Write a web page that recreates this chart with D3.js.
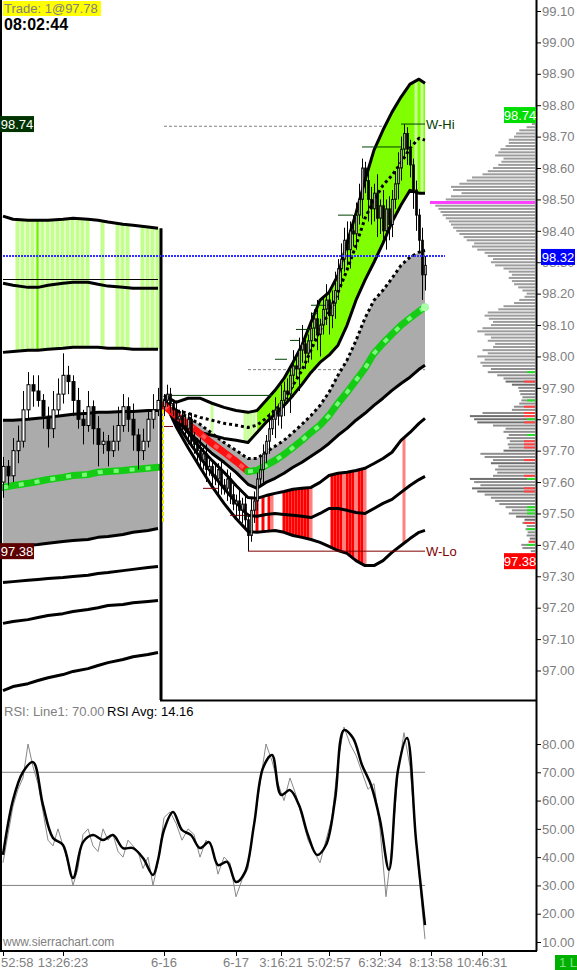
<!DOCTYPE html>
<html><head><meta charset="utf-8">
<script src="https://cdn.jsdelivr.net/npm/d3@7"></script>
<style>html,body{margin:0;padding:0;background:#fff;overflow:hidden}svg{display:block;font-family:"Liberation Sans",Arial,sans-serif}</style>
</head><body><svg id="c" width="577" height="970"></svg>
<script>
// ---------- DATA ----------
const priceTicks = [97.0,97.1,97.2,97.3,97.4,97.5,97.6,97.7,97.8,97.9,98.0,98.1,98.2,98.3,98.4,98.5,98.6,98.7,98.8,98.9,99.0,99.1];
const rsiTicks = [10,20,30,40,50,60,70,80];
const xTickIdx = [0,12,32,56,71,87,104,121,138];
const xTickLabels = ["52:58","13:26:23","6-16","6-17","3:16:21","5:02:57","6:32:34","8:13:58","10:46:31"];

// previous session bars (left), bar index 0..31
const leftOpen0 = 97.60;
const leftClose = [97.65,97.62,97.70,97.73,97.83,97.91,97.89,97.86,97.81,97.77,97.83,97.88,97.94,97.92,97.86,97.80,97.78,97.84,97.77,97.72,97.73,97.70,97.73,97.78,97.84,97.80,97.75,97.70,97.73,97.80,97.83,97.86];
const leftWickUp = [0.03,0.02,0.04,0.05,0.06,0.04,0.03,0.05,0.02,0.03,0.06,0.05,0.07,0.03,0.02,0.04,0.03,0.05,0.02,0.04,0.03,0.02,0.05,0.06,0.04,0.03,0.05,0.02,0.04,0.03,0.05,0.04];
const leftWickDn = [0.05,0.03,0.02,0.04,0.02,0.03,0.05,0.02,0.04,0.06,0.03,0.02,0.03,0.04,0.05,0.03,0.06,0.02,0.05,0.07,0.03,0.05,0.02,0.03,0.02,0.04,0.05,0.06,0.03,0.02,0.03,0.02];

// current session bars, bar index 32..119
const midOpen0 = 97.84;
const midClose = [97.86,97.88,97.85,97.83,97.80,97.81,97.78,97.77,97.80,97.73,
 97.72,97.70,97.67,97.69,97.64,97.65,97.62,97.61,97.64,97.59,
 97.58,97.61,97.56,97.53,97.54,97.51,97.53,97.48,97.43,97.51,
 97.54,97.61,97.64,97.69,97.73,97.77,97.80,97.83,97.81,97.86,
 97.89,97.88,97.94,97.97,97.96,98.02,98.04,98.01,98.05,98.09,
 98.12,98.07,98.10,98.15,98.18,98.13,98.17,98.21,98.28,98.31,
 98.37,98.34,98.40,98.39,98.45,98.50,98.60,98.56,98.50,98.47,
 98.52,98.44,98.48,98.40,98.47,98.42,98.50,98.55,98.60,98.66,
 98.71,98.66,98.61,98.53,98.45,98.37,98.26,98.29];
const midWickUp = [0.02,0.03,0.02,0.01,0.03,0.02,0.02,0.03,0.02,0.02,
 0.03,0.02,0.04,0.02,0.03,0.02,0.02,0.04,0.02,0.03,
 0.02,0.03,0.02,0.03,0.02,0.04,0.02,0.03,0.02,0.04,
 0.03,0.02,0.04,0.03,0.02,0.05,0.03,0.04,0.02,0.05,
 0.03,0.04,0.02,0.05,0.03,0.04,0.06,0.03,0.02,0.05,
 0.03,0.06,0.02,0.04,0.05,0.03,0.04,0.06,0.03,0.05,
 0.04,0.06,0.03,0.05,0.04,0.05,0.03,0.02,0.05,0.04,
 0.03,0.06,0.02,0.05,0.03,0.04,0.03,0.04,0.05,0.04,
 0.03,0.02,0.03,0.02,0.03,0.02,0.04,0.03];
const midWickDn = [0.03,0.02,0.03,0.02,0.02,0.04,0.02,0.03,0.05,0.02,
 0.03,0.04,0.02,0.03,0.04,0.02,0.03,0.02,0.05,0.03,
 0.02,0.04,0.03,0.02,0.04,0.03,0.04,0.03,0.05,0.02,
 0.04,0.03,0.02,0.05,0.03,0.04,0.02,0.06,0.03,0.04,
 0.05,0.03,0.06,0.04,0.03,0.07,0.04,0.05,0.03,0.06,
 0.04,0.05,0.07,0.03,0.05,0.06,0.04,0.05,0.03,0.06,
 0.04,0.05,0.06,0.04,0.05,0.03,0.06,0.04,0.07,0.05,
 0.04,0.06,0.05,0.04,0.06,0.05,0.04,0.03,0.05,0.04,
 0.03,0.05,0.04,0.06,0.05,0.04,0.08,0.05];

// previous session bands
const leftBandIdx = [0,2,5,7,9,12,14,17,19,21,24,26,29,31];
const leftTop = [98.447,98.437,98.434,98.434,98.434,98.437,98.440,98.437,98.434,98.428,98.421,98.418,98.412,98.408];
const left2 = [98.233,98.227,98.220,98.220,98.227,98.233,98.236,98.236,98.230,98.224,98.220,98.217,98.217,98.217];
const left3 = [98.013,98.016,98.020,98.020,98.023,98.026,98.029,98.029,98.029,98.026,98.026,98.023,98.023,98.023];
const leftGrayTop = [97.797,97.797,97.800,97.803,97.806,97.812,97.816,97.819,97.822,97.822,97.825,97.825,97.828,97.828];
const leftVwap = [97.583,97.589,97.596,97.602,97.608,97.615,97.621,97.624,97.631,97.634,97.637,97.640,97.644,97.647];
const leftGrayBot = [97.392,97.395,97.398,97.401,97.405,97.411,97.414,97.417,97.424,97.427,97.433,97.440,97.446,97.452];
const leftLow1 = [97.280,97.283,97.287,97.290,97.293,97.296,97.299,97.303,97.309,97.312,97.318,97.322,97.328,97.331];
const leftLow2 = [97.150,97.156,97.162,97.169,97.175,97.181,97.188,97.194,97.200,97.207,97.210,97.216,97.220,97.223];
const leftLow3 = [96.936,96.949,96.958,96.968,96.977,96.987,96.997,97.006,97.016,97.025,97.035,97.044,97.051,97.057];
const leftStripes = [3,4,5,6,8,9,10,11,12,13,14,15,16,17,20,23,24,25,28,29,30,31];
const leftBright = [7];

// current session bands
const midBandIdx = [32,36,40,44,48,52,56,60,63,66,69,72,75,78,81,84,87,90,93,96,99,102,105,108,111,114,117,119];
const greenTop = [97.876,97.854,97.867,97.867,97.851,97.838,97.828,97.822,97.828,97.860,97.892,97.930,97.981,98.036,98.109,98.179,98.204,98.259,98.361,98.456,98.561,98.657,98.721,98.778,98.826,98.867,98.883,98.870];
const greenMid = [97.867,97.828,97.819,97.806,97.797,97.787,97.781,97.774,97.781,97.803,97.828,97.860,97.908,97.956,98.020,98.083,98.141,98.204,98.275,98.354,98.440,98.498,98.545,98.577,98.616,98.663,98.695,98.689];
const greenBot = [97.860,97.787,97.771,97.758,97.749,97.739,97.733,97.726,97.758,97.790,97.816,97.844,97.876,97.911,97.949,97.981,98.004,98.036,98.099,98.179,98.243,98.300,98.361,98.428,98.482,98.529,98.520,98.520];
const grayTop = [97.860,97.828,97.806,97.784,97.755,97.726,97.701,97.675,97.675,97.695,97.714,97.733,97.758,97.784,97.812,97.844,97.886,97.940,97.988,98.051,98.122,98.179,98.211,98.249,98.290,98.316,98.332,98.338];
const midVwap = [97.844,97.812,97.784,97.755,97.723,97.695,97.666,97.634,97.637,97.653,97.669,97.688,97.710,97.733,97.758,97.781,97.812,97.851,97.886,97.924,97.962,98.010,98.042,98.071,98.099,98.122,98.144,98.157];
const grayBot = [97.854,97.797,97.761,97.726,97.691,97.663,97.631,97.593,97.580,97.599,97.612,97.628,97.647,97.663,97.682,97.701,97.723,97.749,97.771,97.797,97.819,97.844,97.867,97.892,97.914,97.934,97.959,97.972];
const lowA = [97.860,97.803,97.758,97.710,97.669,97.631,97.589,97.551,97.548,97.557,97.564,97.570,97.577,97.580,97.583,97.599,97.621,97.628,97.631,97.637,97.644,97.659,97.675,97.695,97.733,97.758,97.787,97.803];
const lowB = [97.860,97.790,97.733,97.679,97.628,97.580,97.535,97.494,97.491,97.497,97.500,97.497,97.494,97.491,97.487,97.500,97.516,97.516,97.510,97.503,97.500,97.516,97.532,97.545,97.567,97.589,97.608,97.618];
const lowC = [97.860,97.777,97.710,97.647,97.586,97.532,97.484,97.443,97.440,97.443,97.446,97.440,97.430,97.424,97.417,97.408,97.395,97.382,97.373,97.350,97.334,97.334,97.350,97.376,97.398,97.420,97.440,97.446];
const vwapRedUntil = 60;
const midPaleStripes = [48,59,60,61,62,116,118];
const midRedStripes = [63,65,67,72,73,74,75,76,77,78,79,80,88,89,90,91,93,94,95,97,98];
const midPinkStripes = [68,81,92,96,99,112];

// reference levels
const wHi = 98.74, wLo = 97.38, lastPrice = 98.32, pocPrice = 98.49;
const prevRef = 98.245;
const dashHi = 98.733, dashMid = 97.958;
const stepHi = [[34,68,97.876],[69,73,97.991],[74,77,98.051],[76,81,98.086],[81,83,98.137],[81,89,98.163],[90,95,98.450],[98,111,98.667]];
const stepLo = [[32,35,97.777],[45,50,97.580],[54,60,97.494]];

// volume profile 97.37 .. 98.74 by 0.01
const profStart = 97.37;
const profVol = [3,4,12,13,6,5,8,7,9,8,
 12,10,18,25,22,28,34,38,42,48,
 55,60,52,58,62,40,36,38,35,42,
 40,48,52,30,25,26,24,27,25,30,
 28,40,55,58,62,50,22,20,15,13,
 12,14,15,16,22,28,30,36,45,42,
 50,52,48,55,45,50,40,38,45,42,
 48,55,50,42,40,44,48,45,35,30,
 20,15,10,8,12,16,20,22,25,22,
 25,30,38,42,40,45,48,55,60,58,
 65,68,72,75,78,80,82,85,88,90,
 92,95,100,85,80,70,78,80,72,65,
 60,50,45,40,35,32,30,38,35,33,
 28,25,25,20,18,15,8,3];
const profDark = [97.42,97.48,97.49,97.57,97.58,97.61,97.66,97.70,97.79,97.80,97.81,97.91,97.92];
const profRed = [97.41,97.47,97.57,97.58,97.62,97.67,97.71,97.72,97.73,97.79,97.81,97.82,97.84,97.92];
const profGreen = [97.40,97.45,97.50,97.51,97.52,97.61,97.75,97.80,97.86,97.95];

// RSI
const rsiAvgLeft = [40.8,60.2,70.1,73.6,58.4,46.8,44.3,32.6,45.3,47.8,46.1,47.8,43.2,43.2,39.7,33.7,39.0];
const rsiAvgMid = [49.6,56.0,49.6,47.8,43.2,45.3,37.2,38.3,31.2,34.7,51.4,71.5,76.1,62.0,63.7,58.4,47.8,40.8,44.3,60.2,84.9,82.1,72.6,65.5,53.1,35.5,70.8,82.1,46.1,16.0];
const rsiRawLeft = [38,48,58,64,68,80,72,66,56,46,44,50,44,38,30,36,48,50,44,42,50,46,48,42,40,46,44,42,36,40,30,38];
const rsiRawMid = [54,56,52,46,50,48,40,46,44,34,40,38,26,32,36,52,66,80,74,66,60,68,62,54,46,42,38,46,54,74,86,80,76,70,64,66,50,26,44,70,84,72,46,22];
const rsiRawLast = 11;
const rsiLine1 = 70, rsiLine2 = 30, rsiAvgLast = 14.16;

// ---------- SCALES ----------
const svg = d3.select("#c");
const x = d3.scaleLinear().domain([0,31,32,156]).range([3,158,164,536]);
const y = d3.scaleLinear().domain([97.0,99.1]).range([670.5,11]);
const yR = d3.scaleLinear().domain([10,80]).range([942,744]);
const GRAY = "#808080";

const defs = svg.append("defs");
defs.append("clipPath").attr("id","clipP").append("rect").attr("x",2).attr("y",0).attr("width",534).attr("height",700);
defs.append("clipPath").attr("id","clipR").append("rect").attr("x",2).attr("y",702).attr("width",534).attr("height",248);

const gP = svg.append("g").attr("clip-path","url(#clipP)");
const interp = (idx, vals) => d3.scaleLinear().domain(idx).range(vals).clamp(true);
const lineGen = idx => d3.line().x((d,i)=>x(idx[i])).y(d=>y(d));
const areaGen = (idx, lo, hi) => d3.area().x(i=>x(idx[i])).y0(i=>y(lo[i])).y1(i=>y(hi[i]));

// dashed reference lines (under everything)
gP.append("line").attr("x1",x(32)).attr("x2",x(119)).attr("y1",y(dashHi)).attr("y2",y(dashHi))
  .attr("stroke",GRAY).attr("stroke-dasharray","3,2");
gP.append("line").attr("x1",x(60)).attr("x2",x(119)).attr("y1",y(dashMid)).attr("y2",y(dashMid))
  .attr("stroke",GRAY).attr("stroke-dasharray","3,2");

// left pale-green stripes
const lTopF = interp(leftBandIdx,leftTop), l3F = interp(leftBandIdx,left3);
gP.selectAll(".ls").data(leftStripes).join("rect")
  .attr("x",d=>x(d)-2.5).attr("width",4)
  .attr("y",d=>y(lTopF(d))).attr("height",d=>y(l3F(d))-y(lTopF(d)))
  .attr("fill","#c3ff8c");
gP.selectAll(".lb").data(leftBright).join("rect")
  .attr("x",d=>x(d)-2.5).attr("width",4)
  .attr("y",d=>y(lTopF(d))).attr("height",d=>y(l3F(d))-y(lTopF(d)))
  .attr("fill","#c3ff8c");
gP.selectAll(".lb2").data(leftBright).join("rect")
  .attr("x",d=>x(d)-1.5).attr("width",2)
  .attr("y",d=>y(lTopF(d))).attr("height",d=>y(l3F(d))-y(lTopF(d)))
  .attr("fill","#70f000");

// gray fills
const li = d3.range(leftBandIdx.length), mi = d3.range(midBandIdx.length);
gP.append("path").attr("d",areaGen(leftBandIdx,leftGrayBot,leftGrayTop)(li)).attr("fill","#ababab");
gP.append("path").attr("d",areaGen(midBandIdx,grayBot,grayTop)(mi)).attr("fill","#ababab");

// lime fill
const mi2 = mi.slice(8);
gP.append("path").attr("d",areaGen(midBandIdx,greenBot,greenTop)(mi2)).attr("fill","#80ff00");
const gTopF = interp(midBandIdx,greenTop), gBotF = interp(midBandIdx,greenBot);
gP.selectAll(".mp").data(midPaleStripes).join("rect")
  .attr("x",d=>x(d)-1.5).attr("width",3)
  .attr("y",d=>y(gTopF(d))).attr("height",d=>Math.max(0,y(gBotF(d))-y(gTopF(d))))
  .attr("fill","#c8ff98");
// red stripes
const lAF = interp(midBandIdx,lowA), lCF = interp(midBandIdx,lowC);
gP.selectAll(".mr").data(midRedStripes).join("rect")
  .attr("x",d=>x(d)-1.5).attr("width",3)
  .attr("y",d=>y(lAF(d))).attr("height",d=>y(lCF(d))-y(lAF(d)))
  .attr("fill","#ff0000");
gP.selectAll(".mk").data(midPinkStripes).join("rect")
  .attr("x",d=>x(d)-1.5).attr("width",3)
  .attr("y",d=>y(lAF(d))).attr("height",d=>y(lCF(d))-y(lAF(d)))
  .attr("fill","#ff8080");

// band lines
function band(idx, vals, dash){
  const p = gP.append("path").attr("d",lineGen(idx)(vals)).attr("fill","none")
    .attr("stroke","#000").attr("stroke-width",3).attr("stroke-linejoin","round");
  if(dash) p.attr("stroke-dasharray",dash);
}
[leftTop,left2,left3,leftGrayTop,leftGrayBot,leftLow1,leftLow2,leftLow3].forEach(v=>band(leftBandIdx,v));
band(midBandIdx,greenTop); band(midBandIdx,greenMid,"3,3"); band(midBandIdx,greenBot);
band(midBandIdx,grayTop,"3,3"); band(midBandIdx,grayBot);
band(midBandIdx,lowA); band(midBandIdx,lowB); band(midBandIdx,lowC);

// VWAP
function vwap(idx, vals, col1, col2){
  const d = lineGen(idx)(vals);
  gP.append("path").attr("d",d).attr("fill","none").attr("stroke",col1).attr("stroke-width",7).attr("stroke-linecap","round");
  gP.append("path").attr("d",d).attr("fill","none").attr("stroke",col2).attr("stroke-width",4)
    .attr("stroke-dasharray","5,11").attr("opacity",0.85);
}
vwap(leftBandIdx,leftVwap,"#14cc14","#8cff8c");
const cut = midBandIdx.indexOf(vwapRedUntil);
vwap(midBandIdx.slice(0,cut+1),midVwap.slice(0,cut+1),"#ff1010","#ff6060");
vwap(midBandIdx.slice(cut),midVwap.slice(cut),"#14cc14","#8cff8c");
gP.append("circle").attr("cx",x(midBandIdx[midBandIdx.length-1])).attr("cy",y(midVwap[midVwap.length-1])).attr("r",4).attr("fill","#a8ffa8");

// thin prev reference line (left)
gP.append("line").attr("x1",x(0)).attr("x2",x(31)).attr("y1",y(prevRef)).attr("y2",y(prevRef)).attr("stroke","#000");

// step lines
gP.selectAll(".sh").data(stepHi).join("line")
  .attr("x1",d=>x(d[0])).attr("x2",d=>x(d[1])).attr("y1",d=>y(d[2])).attr("y2",d=>y(d[2]))
  .attr("stroke","#004000").attr("stroke-width",1);
gP.selectAll(".sl").data(stepLo).join("line")
  .attr("x1",d=>x(d[0])).attr("x2",d=>x(d[1])).attr("y1",d=>y(d[2])).attr("y2",d=>y(d[2]))
  .attr("stroke","#800000").attr("stroke-width",1);

// candles
function candles(closes, open0, wu, wd, i0, bw){
  const data = closes.map((c,i)=>{
    const o = i===0?open0:closes[i-1];
    return {i:i0+i,o,c,h:Math.max(o,c)+wu[i],l:Math.min(o,c)-wd[i]};
  });
  const g = gP.append("g");
  g.selectAll("line").data(data).join("line")
    .attr("x1",d=>Math.round(x(d.i))+0.5).attr("x2",d=>Math.round(x(d.i))+0.5)
    .attr("y1",d=>y(d.h)).attr("y2",d=>y(d.l)).attr("stroke","#000");
  g.selectAll("rect").data(data).join("rect")
    .attr("x",d=>Math.round(x(d.i))+0.5-bw/2).attr("width",bw)
    .attr("y",d=>y(Math.max(d.o,d.c))).attr("height",d=>Math.max(1,Math.abs(y(d.o)-y(d.c))))
    .attr("fill",d=>d.c>=d.o?"#fff":"#000").attr("stroke","#000").attr("stroke-width",1);
}
candles(leftClose,leftOpen0,leftWickUp,leftWickDn,0,3);
candles(midClose,midOpen0,midWickUp,midWickDn,32,1.6);

// W-Hi / W-Lo
gP.append("line").attr("x1",x(111)).attr("x2",x(119)).attr("y1",y(wHi)).attr("y2",y(wHi)).attr("stroke","#004000");
gP.append("line").attr("x1",x(60)).attr("x2",x(119)).attr("y1",y(wLo)).attr("y2",y(wLo)).attr("stroke","#800000");
gP.append("text").attr("x",x(119)+1).attr("y",y(wHi)+5).attr("font-size",13).attr("fill","#004000").text("W-Hi");
gP.append("text").attr("x",x(119)+1).attr("y",y(wLo)+5).attr("font-size",13).attr("fill","#800000").text("W-Lo");

// session divider
gP.append("line").attr("x1",161).attr("x2",161).attr("y1",y(leftTop[leftTop.length-1])).attr("y2",700)
  .attr("stroke","#000").attr("stroke-width",3);
gP.append("line").attr("x1",163).attr("x2",163).attr("y1",y(97.83)).attr("y2",y(97.47))
  .attr("stroke","#e8e800").attr("stroke-width",2).attr("stroke-dasharray","4,2");

// last price dotted line
gP.append("line").attr("x1",0).attr("x2",445).attr("y1",y(lastPrice)).attr("y2",y(lastPrice))
  .attr("stroke","#3030ff").attr("stroke-width",2).attr("stroke-dasharray","2,1");

// volume profile
const pw = d3.scaleLinear().domain([0,100]).range([0,105]);
const profData = profVol.map((v,i)=>({p:+(profStart+i*0.01).toFixed(2),v}));
const RX = 535;
gP.selectAll(".pv").data(profData).join("rect")
  .attr("x",d=>RX-pw(d.v)).attr("width",d=>pw(d.v))
  .attr("y",d=>y(d.p)-1).attr("height",2)
  .attr("fill",d=>profDark.includes(d.p)?"#6e6e6e":(d.p<97.97?"#8e8e8e":"#9c9c9c"));
gP.selectAll(".pr").data(profData.filter(d=>profRed.includes(d.p))).join("rect")
  .attr("x",d=>RX-Math.min(pw(d.v),11)).attr("width",d=>Math.min(pw(d.v),11))
  .attr("y",d=>y(d.p)-1).attr("height",2).attr("fill","#ff4040");
gP.selectAll(".pg").data(profData.filter(d=>profGreen.includes(d.p))).join("rect")
  .attr("x",d=>RX-Math.min(pw(d.v),8)).attr("width",d=>Math.min(pw(d.v),8))
  .attr("y",d=>y(d.p)-1).attr("height",2).attr("fill","#20e020");
gP.append("line").attr("x1",430).attr("x2",RX).attr("y1",y(pocPrice)).attr("y2",y(pocPrice))
  .attr("stroke","#ff40ff").attr("stroke-width",3);

// ---------- RSI PANEL ----------
const gR = svg.append("g").attr("clip-path","url(#clipR)");
[rsiLine1,rsiLine2].forEach(v=>{
  gR.append("line").attr("x1",2).attr("x2",x(119)).attr("y1",yR(v)).attr("y2",yR(v)).attr("stroke",GRAY);
});
const rawIdx = d3.range(32).concat(d3.range(32,120,2)).concat([119]);
const rawVals = rsiRawLeft.concat(rsiRawMid).concat([rsiRawLast]);
gR.append("path").attr("d",d3.line().x((d,i)=>x(rawIdx[i])).y(d=>yR(d))(rawVals))
  .attr("fill","none").attr("stroke","#888").attr("stroke-width",1);
const avgIdx = d3.range(0,31,2).concat([31]).concat(d3.range(32,120,3));
const avgVals = rsiAvgLeft.concat(rsiAvgMid);
gR.append("path").attr("d",d3.line().curve(d3.curveCatmullRom).x((d,i)=>x(avgIdx[i])).y(d=>yR(d))(avgVals))
  .attr("fill","none").attr("stroke","#000").attr("stroke-width",2.5);

// ---------- FRAMES & AXES ----------
svg.append("line").attr("x1",1).attr("x2",1).attr("y1",0).attr("y2",951).attr("stroke","#000").attr("stroke-width",2);
svg.append("line").attr("x1",536.5).attr("x2",536.5).attr("y1",0).attr("y2",951).attr("stroke","#000").attr("stroke-width",2);
svg.append("line").attr("x1",160).attr("x2",537).attr("y1",700.5).attr("y2",700.5).attr("stroke","#000").attr("stroke-width",2);
svg.append("line").attr("x1",0).attr("x2",537).attr("y1",951).attr("y2",951).attr("stroke","#000").attr("stroke-width",2);

const yAxis = d3.axisRight(y).tickValues(priceTicks).tickSize(4).tickFormat(d3.format(".2f"));
const ga = svg.append("g").attr("transform","translate(537,0)").call(yAxis);
ga.select(".domain").remove();
ga.selectAll("line").attr("stroke","#000");
ga.selectAll("text").attr("fill",GRAY).attr("font-size",13).attr("font-family","Liberation Sans, Arial, sans-serif").attr("x",5);

const rAxis = d3.axisRight(yR).tickValues(rsiTicks).tickSize(4).tickFormat(d3.format(".2f"));
const gr = svg.append("g").attr("transform","translate(537,0)").call(rAxis);
gr.select(".domain").remove();
gr.selectAll("line").attr("stroke","#000");
gr.selectAll("text").attr("fill",GRAY).attr("font-size",13).attr("font-family","Liberation Sans, Arial, sans-serif").attr("x",5);

const xg = svg.append("g");
xg.selectAll("line").data(xTickIdx).join("line")
  .attr("x1",d=>Math.round(x(d))+0.5).attr("x2",d=>Math.round(x(d))+0.5).attr("y1",951).attr("y2",956).attr("stroke","#000");
xg.selectAll("text").data(xTickIdx).join("text")
  .attr("x",(d,i)=>i===0?1:x(d)).attr("y",967).attr("text-anchor",(d,i)=>i===0?"start":"middle")
  .attr("font-size",13).attr("fill",GRAY)
  .text((d,i)=>xTickLabels[i]);

// price label boxes
function box(x0,yTop,w,h,bg,txt,fg){
  svg.append("rect").attr("x",x0).attr("y",yTop).attr("width",w).attr("height",h).attr("fill",bg);
  svg.append("text").attr("x",x0+w/2).attr("y",yTop+h-3).attr("text-anchor","middle").attr("font-size",13).attr("fill",fg).text(txt);
}
box(504,y(wHi)-17,32,16,"#00dd00",wHi.toFixed(2),"#fff");
box(541,y(lastPrice)-7,34,16,"#0000ff",lastPrice.toFixed(2),"#fff");
box(504,y(wLo)+2,32,16,"#ff0000",wLo.toFixed(2),"#fff");
box(0,y(wHi)-8,34,16,"#003300",wHi.toFixed(2),"#fff");
box(0,y(wLo)-8,34,16,"#5c0000",wLo.toFixed(2),"#fff");

// top-left info
svg.append("rect").attr("x",3).attr("y",1).attr("width",98).attr("height",15).attr("fill","#ffff00");
svg.append("text").attr("x",4).attr("y",13).attr("font-size",13).attr("fill",GRAY).text("Trade: 1@97.78");
svg.append("text").attr("x",4).attr("y",30).attr("font-size",16).attr("font-weight","bold").attr("fill","#000").text("08:02:44");

// RSI header
svg.append("text").attr("x",4).attr("y",716).attr("font-size",13).attr("fill",GRAY).text("RSI:  Line1: " + rsiLine1.toFixed(2));
svg.append("text").attr("x",107).attr("y",716).attr("font-size",13).attr("fill","#000").text("RSI Avg: " + rsiAvgLast.toFixed(2));
svg.append("text").attr("x",3).attr("y",946).attr("font-size",12).attr("fill",GRAY).text("www.sierrachart.com");

// bottom-right tag
svg.append("rect").attr("x",555).attr("y",955).attr("width",22).attr("height",15).attr("fill","#00b000");
svg.append("text").attr("x",559).attr("y",967).attr("font-size",13).attr("fill","#80e080").text("1 L");
</script></body></html>
